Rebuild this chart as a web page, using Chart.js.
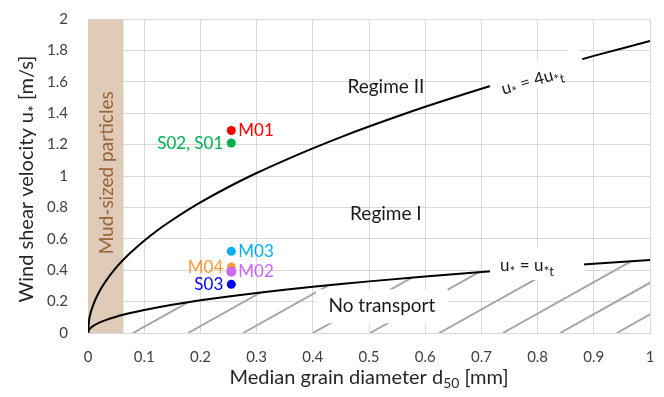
<!DOCTYPE html>
<html><head><meta charset="utf-8">
<script src="https://cdn.jsdelivr.net/npm/chart.js@4.4.1/dist/chart.umd.min.js"></script>
<style>html,body{margin:0;padding:0;background:#fff}#wrap{width:664px;height:397px;position:relative}</style>
</head><body><div id="wrap"><canvas id="c"></canvas></div>
<script>
// ---- data ----
const grainDiameter      = [0, 0.002, 0.005, 0.01, 0.02, 0.03, 0.05, 0.075, 0.1, 0.125, 0.15, 0.175, 0.2, 0.25, 0.3, 0.35, 0.4, 0.45, 0.5, 0.6, 0.7, 0.8, 0.9, 1.0];
const thresholdVelocity  = [0, 0.0208, 0.0329, 0.0465, 0.0658, 0.0805, 0.104, 0.1273, 0.147, 0.1644, 0.1801, 0.1945, 0.208, 0.2325, 0.2547, 0.2751, 0.2941, 0.3119, 0.3288, 0.3602, 0.389, 0.4159, 0.4411, 0.465];
const regime2Velocity    = [0, 0.083, 0.132, 0.186, 0.263, 0.322, 0.416, 0.509, 0.588, 0.658, 0.72, 0.778, 0.832, 0.93, 1.019, 1.1, 1.176, 1.248, 1.315, 1.441, 1.556, 1.664, 1.765, 1.86];
const sampleNames        = ['M01', 'S02, S01', 'M03', 'M02', 'M04', 'S03'];
const sampleD50          = [0.255, 0.255, 0.255, 0.255, 0.255, 0.255];
const sampleVelocity     = [1.29, 1.21, 0.52, 0.39, 0.42, 0.31];
const xTickLabels        = ['0', '0.1', '0.2', '0.3', '0.4', '0.5', '0.6', '0.7', '0.8', '0.9', '1'];
const yTickLabels        = ['0', '0.2', '0.4', '0.6', '0.8', '1', '1.2', '1.4', '1.6', '1.8', '2'];
const mudSizeLimit       = 0.063;
const hatchStartD50      = [0.08, 0.178, 0.276, 0.4, 0.502, 0.625, 0.738, 0.84, 0.941];

// ---- styles ----
const FONT = 'Lato, "Open Sans", sans-serif';
const sampleColors = ['#ff0000', '#00b050', '#00b0f0', '#cc66ff', '#ff9933', '#0000ff'];
const sampleSide   = ['right', 'left', 'right', 'right', 'left', 'left'];
const sampleRadius = [4.5, 4.5, 4.5, 5, 4.5, 4.5];

function richText(ctx, parts, size, cx, cy, color) {
  let w = 0;
  parts.forEach(p => { ctx.font = (size * (p.s || 1)) + 'px ' + FONT; p.w = ctx.measureText(p.t).width; w += p.w; });
  let x0 = cx - w / 2;
  ctx.fillStyle = color; ctx.textAlign = 'left'; ctx.textBaseline = 'alphabetic';
  parts.forEach(p => { ctx.font = (size * (p.s || 1)) + 'px ' + FONT; ctx.fillText(p.t, x0, cy + 0.36 * size + (p.dy || 0) * size); x0 += p.w; });
}

const annotations = {
  id: 'annotations',
  beforeDatasetsDraw(chart) {
    const {ctx, chartArea: a, scales: {x, y}} = chart;
    // mud band
    ctx.save();
    const xm = x.getPixelForValue(mudSizeLimit);
    ctx.fillStyle = '#dfcbb7';
    ctx.fillRect(a.left, a.top, xm - a.left, a.bottom - a.top);
    ctx.translate((a.left + xm) / 2 + 1, y.getPixelForValue(1.02));
    ctx.rotate(-Math.PI / 2);
    ctx.font = '19px ' + FONT;
    ctx.fillStyle = '#9a6536';
    ctx.textAlign = 'center'; ctx.textBaseline = 'middle';
    ctx.fillText('Mud-sized particles', 0, 0);
    ctx.restore();
    // hatch under threshold curve
    ctx.save();
    ctx.beginPath();
    ctx.rect(a.left, a.top, a.right - a.left, a.bottom - a.top);
    ctx.clip();
    ctx.beginPath();
    ctx.moveTo(x.getPixelForValue(grainDiameter[0]), y.getPixelForValue(0));
    grainDiameter.forEach((d, i) => ctx.lineTo(x.getPixelForValue(d), y.getPixelForValue(thresholdVelocity[i])));
    ctx.lineTo(x.getPixelForValue(grainDiameter[grainDiameter.length - 1]), y.getPixelForValue(0));
    ctx.closePath();
    ctx.clip();
    ctx.strokeStyle = '#a6a6a6'; ctx.lineWidth = 2;
    hatchStartD50.forEach(d0 => {
      ctx.beginPath();
      ctx.moveTo(x.getPixelForValue(d0), y.getPixelForValue(0));
      ctx.lineTo(x.getPixelForValue(d0 + 0.5), y.getPixelForValue(1));
      ctx.stroke();
    });
    ctx.restore();
  },
  afterDatasetsDraw(chart) {
    const {ctx, chartArea: a, scales: {x, y}} = chart;
    ctx.save();
    // white boxes
    const box = (d, u, w, h, ang) => {
      ctx.save();
      ctx.translate(x.getPixelForValue(d), y.getPixelForValue(u));
      ctx.rotate(ang || 0);
      ctx.fillStyle = '#fff';
      ctx.fillRect(-w / 2, -h / 2, w, h);
      ctx.restore();
    };
    box(0.523, 0.17, 132, 34);
    box(0.799, 0.44, 94, 32);
    box(0.798, 1.65, 96, 28, -16 * Math.PI / 180);

    // plain labels
    ctx.fillStyle = '#1a1a1a';
    ctx.textAlign = 'center'; ctx.textBaseline = 'middle';
    ctx.font = '19px ' + FONT;
    ctx.fillText('Regime II', x.getPixelForValue(0.53), y.getPixelForValue(1.57));
    ctx.fillText('Regime I', x.getPixelForValue(0.53), y.getPixelForValue(0.76));
    ctx.fillText('No transport', x.getPixelForValue(0.523), y.getPixelForValue(0.17));

    // curve labels
    const lbl = (k) => [{t: 'u'}, {t: '*', s: 0.8, dy: 0.28}, {t: ' = ' + k + 'u'}, {t: '*', s: 0.8, dy: 0.28}, {t: 't', s: 0.75, dy: 0.3}];
    richText(ctx, lbl(''), 17, x.getPixelForValue(0.781), y.getPixelForValue(0.435), '#1a1a1a');
    ctx.save();
    ctx.translate(x.getPixelForValue(0.79), y.getPixelForValue(1.611));
    ctx.rotate(-16 * Math.PI / 180);
    richText(ctx, lbl('4'), 17, 0, 0, '#1a1a1a');
    ctx.restore();

    // sample labels
    ctx.font = '17px ' + FONT;
    ctx.textBaseline = 'middle';
    sampleNames.forEach((name, i) => {
      const pt = chart.getDatasetMeta(i).data[0];
      ctx.fillStyle = sampleColors[i];
      if (sampleSide[i] === 'right') { ctx.textAlign = 'left'; ctx.fillText(name, pt.x + 7, pt.y); }
      else { ctx.textAlign = 'right'; ctx.fillText(name, pt.x - 8, pt.y); }
    });

    // axis titles
    richText(ctx, [{t: 'Median grain diameter d'}, {t: '50', s: 0.7, dy: 0.2}, {t: ' [mm]'}], 20,
      (a.left + a.right) / 2, 377, '#262626');
    ctx.save();
    ctx.translate(26, (a.top + a.bottom) / 2 + 3);
    ctx.rotate(-Math.PI / 2);
    richText(ctx, [{t: 'Wind shear velocity u'}, {t: '*', s: 0.8, dy: 0.28}, {t: ' [m/s]'}], 20, 0, 0, '#262626');
    ctx.restore();
    ctx.restore();
  }
};

const sampleSets = sampleNames.map((name, i) => ({
  label: name,
  data: [{x: sampleD50[i], y: sampleVelocity[i]}],
  backgroundColor: sampleColors[i],
  borderColor: sampleColors[i],
  pointRadius: sampleRadius[i],
  pointBorderWidth: 0,
  showLine: false,
  order: 0
}));

const curveSet = (vals) => ({
  data: grainDiameter.map((d, i) => ({x: d, y: vals[i]})),
  borderColor: '#000',
  borderWidth: 2,
  pointRadius: 0,
  showLine: true,
  fill: false,
  cubicInterpolationMode: 'monotone',
  order: 10
});

new Chart(document.getElementById('c'), {
  type: 'scatter',
  data: { datasets: [...sampleSets, curveSet(thresholdVelocity), curveSet(regime2Velocity)] },
  options: {
    responsive: true,
    maintainAspectRatio: false,
    animation: false,
    devicePixelRatio: 1,
    layout: { padding: { top: 19, right: 14, left: 0, bottom: 0 } },
    plugins: { legend: { display: false }, tooltip: { enabled: false } },
    scales: {
      x: {
        type: 'linear', min: 0, max: 1,
        afterFit: s => { s.height = 64; s.paddingLeft = 0; s.paddingRight = 0; s.paddingTop = 0; s.paddingBottom = 0; },
        grid: { color: '#d9d9d9', drawTicks: false, lineWidth: 1 },
        border: { color: '#d9d9d9' },
        ticks: { stepSize: 0.1, padding: 15, color: '#404040', font: { family: FONT, size: 15 }, maxRotation: 0,
                 callback: (v, i) => xTickLabels[i] },
        title: { display: false }
      },
      y: {
        type: 'linear', min: 0, max: 2,
        afterFit: s => { s.width = 88; s.paddingLeft = 0; s.paddingRight = 0; s.paddingTop = 0; s.paddingBottom = 0; },
        grid: { color: '#d9d9d9', drawTicks: false, lineWidth: 1 },
        border: { color: '#d9d9d9' },
        ticks: { stepSize: 0.2, padding: 20, color: '#404040', font: { family: FONT, size: 15 },
                 callback: (v, i) => yTickLabels[i] },
        title: { display: false }
      }
    }
  },
  plugins: [annotations]
});
</script>
</body></html>
